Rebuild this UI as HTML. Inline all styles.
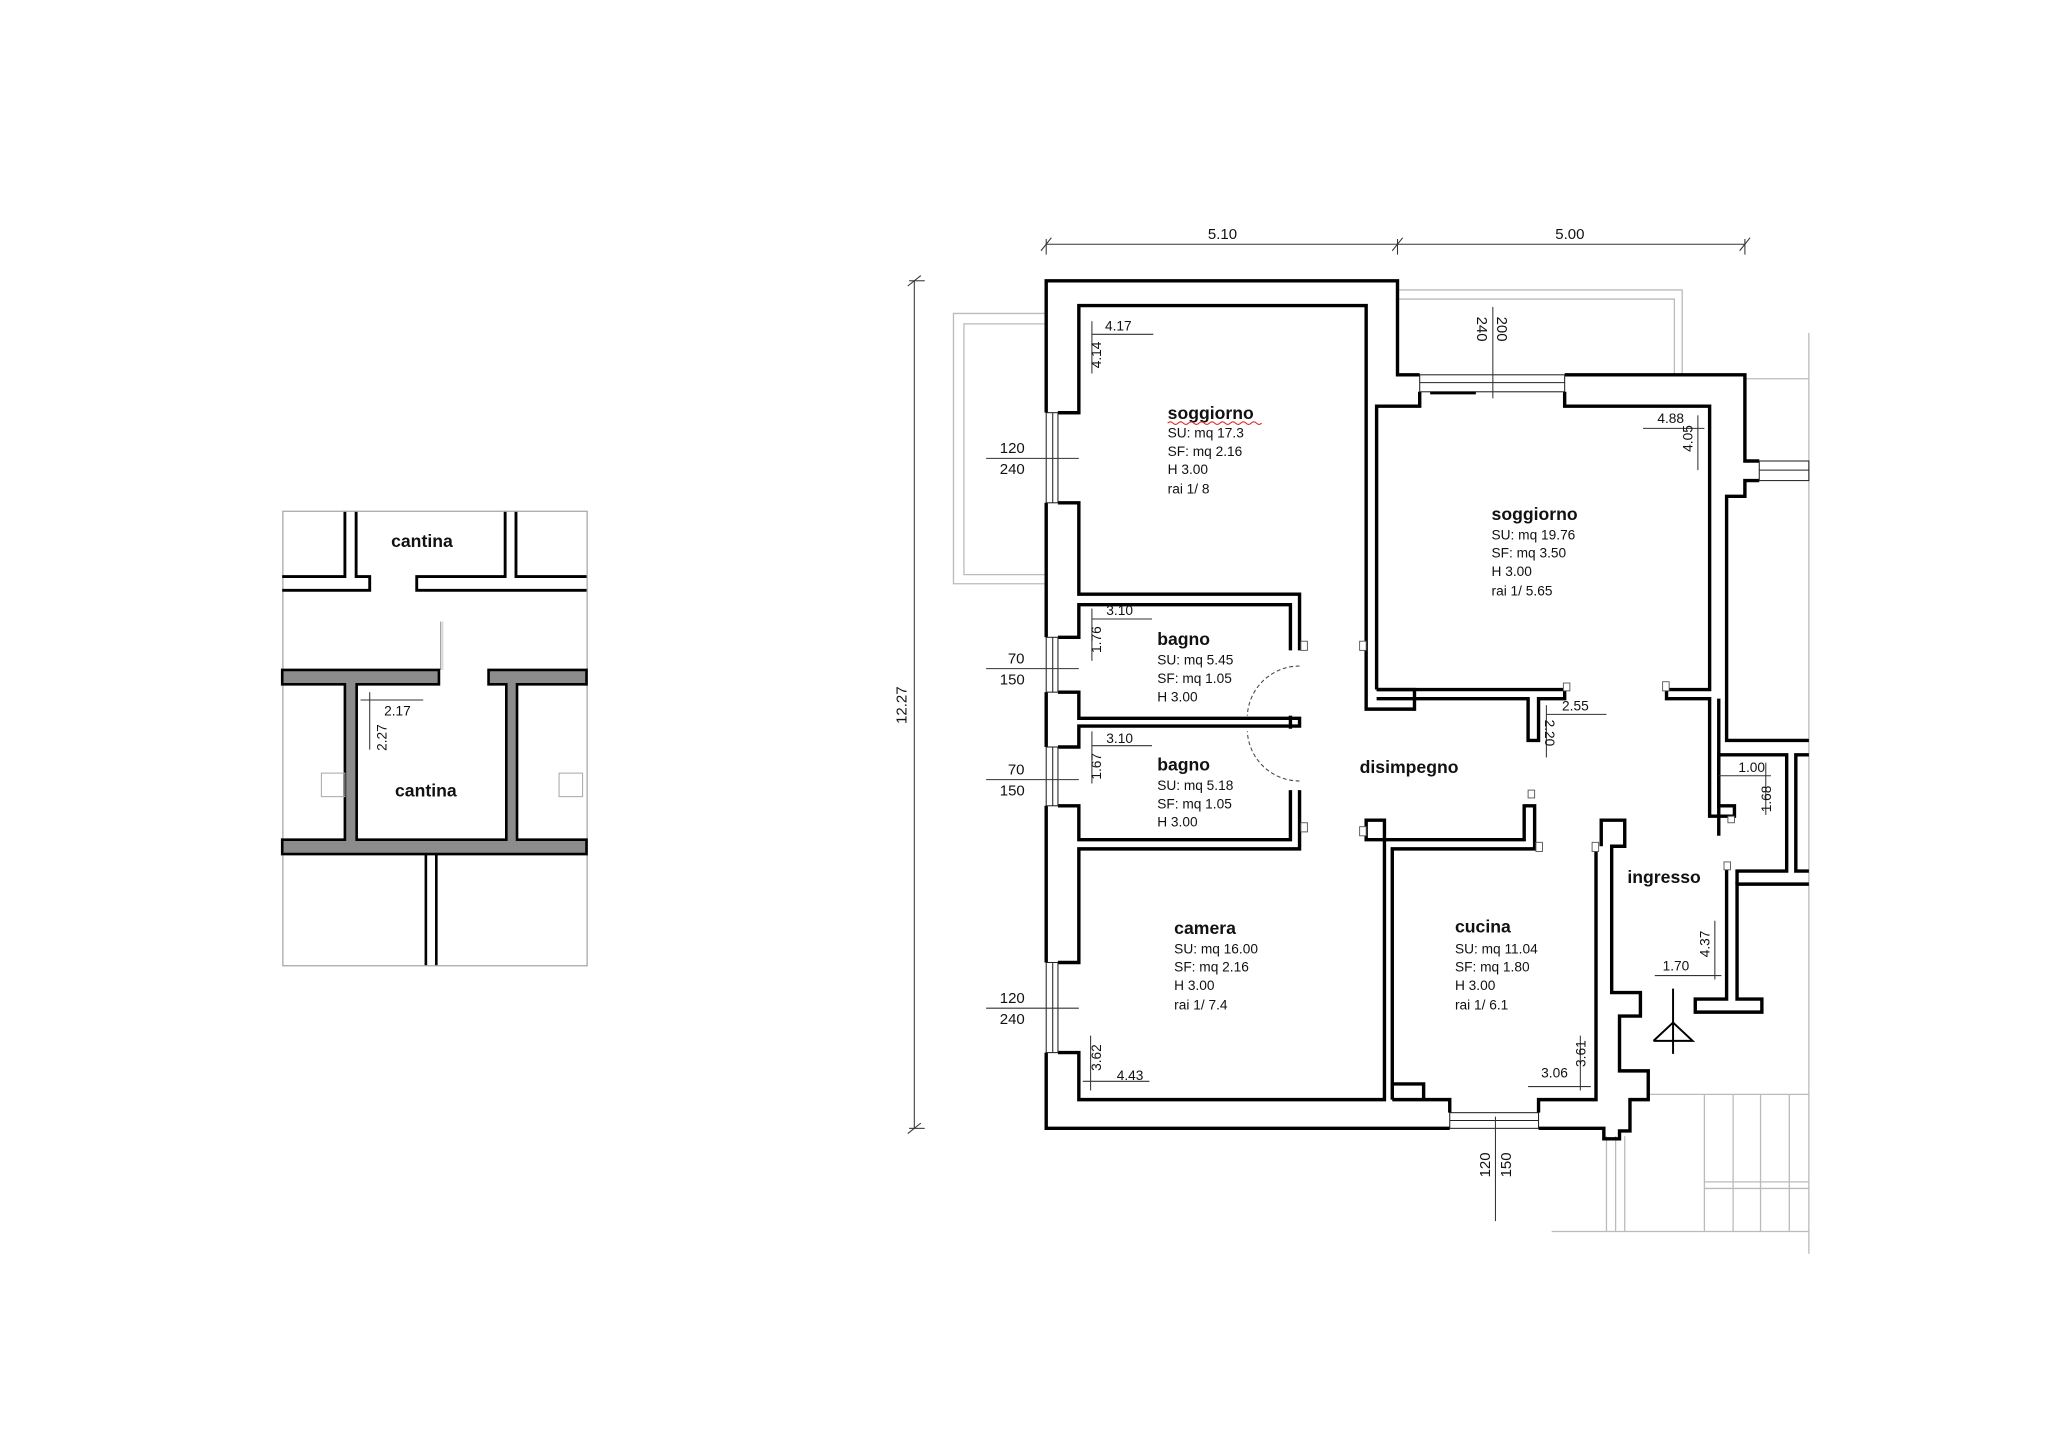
<!DOCTYPE html>
<html><head><meta charset="utf-8"><style>
html,body{margin:0;padding:0;background:#fff;}
svg{display:block;}
text{font-family:"Liberation Sans",sans-serif;fill:#111;}
.b{font-weight:bold;font-size:13.5px;}
.i{font-size:10.5px;}
.d{font-size:10.5px;}
.w{fill:none;stroke:#000;stroke-width:2.6;stroke-linejoin:miter;}
.t{fill:none;stroke:#333;stroke-width:0.8;}
.g{fill:none;stroke:#bbb;stroke-width:1;}
</style></head><body>
<svg width="2048" height="1447" viewBox="0 0 1568 1108" xmlns="http://www.w3.org/2000/svg">
<rect x="0" y="0" width="1568" height="1108" fill="#fff"/>

<!-- ============ CANTINA ============ -->
<rect x="216.5" y="391.5" width="233" height="348" fill="none" stroke="#aaa" stroke-width="1"/>
<g class="w" style="stroke-width:2.2">
<polyline points="216,441.5 264,441.5 264,392"/>
<polyline points="272.6,392 272.6,441.5 283,441.5 283,452 216,452"/>
<polyline points="449,441.5 395,441.5 395,392"/>
<polyline points="386.7,392 386.7,441.5 319,441.5 319,452 449,452"/>
</g>
<line x1="337.4" y1="476" x2="337.4" y2="513" stroke="#888" stroke-width="0.8"/>
<line x1="339" y1="476" x2="339" y2="513" stroke="#bbb" stroke-width="0.6"/>
<g fill="#8c8c8c" stroke="#000" stroke-width="2">
<path d="M216,513 H336 V524 H273 V643 H387.6 V524 H374 V513 H449 V524 H395.8 V643 H449 V654 H216 V643 H264 V524 H216 Z"/>
</g>
<g class="w" style="stroke-width:2">
<line x1="326" y1="654" x2="326" y2="739"/>
<line x1="334" y1="654" x2="334" y2="739"/>
</g>
<rect x="246" y="592" width="18" height="18" fill="none" stroke="#aaa" stroke-width="0.8"/>
<rect x="428" y="592" width="18" height="18" fill="none" stroke="#aaa" stroke-width="0.8"/>
<text class="b" x="323" y="419" text-anchor="middle">cantina</text>
<text class="b" x="326" y="610" text-anchor="middle">cantina</text>
<line class="t" x1="276" y1="536" x2="324" y2="536"/>
<line class="t" x1="283" y1="530" x2="283" y2="574"/>
<text class="d" x="294" y="548">2.17</text>
<text class="d" transform="translate(296,575) rotate(-90)">2.27</text>

<!-- ============ DIMENSIONS ============ -->
<g class="t">
<line x1="801" y1="187" x2="1336" y2="187"/>
<line x1="797" y1="192" x2="805" y2="182"/>
<line x1="1066" y1="192" x2="1074" y2="182"/>
<line x1="1332" y1="192" x2="1340" y2="182"/>
<line x1="801" y1="183" x2="801" y2="195"/>
<line x1="1070" y1="183" x2="1070" y2="195"/>
<line x1="1336" y1="183" x2="1336" y2="195"/>
<line x1="700" y1="215" x2="700" y2="864"/>
<line x1="695" y1="219" x2="705" y2="211"/>
<line x1="695" y1="868" x2="705" y2="860"/>
<line x1="696" y1="215" x2="708" y2="215"/>
<line x1="696" y1="864" x2="708" y2="864"/>
</g>
<text class="d" style="font-size:11.5px" x="936" y="183" text-anchor="middle">5.10</text>
<text class="d" style="font-size:11.5px" x="1202" y="183" text-anchor="middle">5.00</text>
<text class="d" style="font-size:11.5px" transform="translate(694,540) rotate(-90)" text-anchor="middle">12.27</text>

<!-- ============ GREY CONTEXT ============ -->
<g class="g">
<polyline points="801,240 730,240 730,447 801,447"/>
<polyline points="801,248 738,248 738,440 801,440"/>
<polyline points="1070,222 1288,222 1288,287"/>
<polyline points="1070,229 1282,229 1282,287"/>
<line x1="1385" y1="255" x2="1385" y2="960"/>
<line x1="1336" y1="290" x2="1385" y2="290"/>
<line x1="1188" y1="943" x2="1385" y2="943"/>
<line x1="1262" y1="838" x2="1385" y2="838"/>
<line x1="1230" y1="870" x2="1230" y2="943"/>
<line x1="1237" y1="870" x2="1237" y2="943"/>
<line x1="1244" y1="870" x2="1244" y2="943"/>
<line x1="1305" y1="838" x2="1305" y2="943"/>
<line x1="1327" y1="838" x2="1327" y2="943"/>
<line x1="1348" y1="838" x2="1348" y2="943"/>
<line x1="1370" y1="838" x2="1370" y2="943"/>
<line x1="1305" y1="905" x2="1385" y2="905"/>
<line x1="1305" y1="910" x2="1385" y2="910"/>
</g>

<!-- ============ WALLS ============ -->
<g class="w">
<!-- outer -->
<polyline points="1087,287 1070,287 1070,215 801,215 801,316"/>
<line x1="801" y1="385" x2="801" y2="488"/>
<line x1="801" y1="530" x2="801" y2="572"/>
<line x1="801" y1="617" x2="801" y2="737"/>
<polyline points="801,806 801,864 1110,864"/>
<polyline points="1178,864 1228,864 1228,872 1240,872 1240,866 1248,866 1248,842 1262,842 1262,820 1240,820 1240,778 1256,778 1256,760 1234,760 1234,648 1244,648 1244,628 1226,628 1226,648"/>
<!-- soggiorno 1 inner -->
<polyline points="826,316 810,316 810,316"/>
<polyline points="810,316 826,316 826,234 1046,234 1046,543 1083,543 1083,528 1054,528"/>
<polyline points="810,385 826,385 826,455 995,455 995,498"/>
<!-- bagno 1 -->
<polyline points="810,488 826,488 826,463 988,463 988,498"/>
<polyline points="810,530 826,530 826,550 995,550 995,556 826,556 826,572 810,572"/>
<line x1="988" y1="548" x2="988" y2="558"/>
<!-- bagno 2 -->
<polyline points="810,617 826,617 826,643 988,643 988,605"/>
<polyline points="995,605 995,650 826,650 826,737 810,737"/>
<!-- camera -->
<polyline points="810,806 826,806 826,842 1060,842 1060,643 1046,643 1046,628 1060,628 1060,643"/>
<!-- cucina -->
<polyline points="1066,842 1066,650 1175,650 1175,617 1167,617 1167,643 1060,643"/>
<polyline points="1066,830 1090,830 1090,842"/>
<polyline points="1066,842 1110,842 1110,852"/>
<polyline points="1178,852 1178,842 1222,842 1222,648"/>
<!-- soggiorno 2 -->
<polyline points="1054,528 1054,311 1087,311 1087,300"/>
<polyline points="1198,300 1198,311 1309,311 1309,528 1276,528 1276,535 1309,535 1309,625 1328,625 1328,617 1316,617 1316,535"/>
<polyline points="1083,535 1054,535"/>
<polyline points="1054,528 1198,528 1198,535 1178,535 1178,567 1170,567 1170,535 1083,535"/>
<polyline points="1198,287 1336,287 1336,353 1347,353"/>
<polyline points="1347,368 1336,368 1336,380 1322,380 1322,567 1385,567"/>
<!-- ingresso right -->
<polyline points="1385,578 1375,578 1375,667 1385,667"/>
<polyline points="1316,640 1316,578 1368,578 1368,667 1330,667 1330,677"/>
<polyline points="1322,660 1322,765 1298,765 1298,775 1349,775 1349,765 1330,765 1330,677 1385,677"/>
</g>

<!-- windows -->
<g class="t" style="stroke:#222">
<rect x="801" y="316" width="9" height="69"/>
<line x1="806" y1="316" x2="806" y2="385"/>
<rect x="801" y="488" width="9" height="42"/>
<line x1="806" y1="488" x2="806" y2="530"/>
<rect x="801" y="572" width="9" height="45"/>
<line x1="806" y1="572" x2="806" y2="617"/>
<rect x="801" y="737" width="9" height="69"/>
<line x1="806" y1="737" x2="806" y2="806"/>
<rect x="1087" y="287" width="111" height="13"/>
<line x1="1087" y1="293" x2="1198" y2="293"/>
<rect x="1110" y="852" width="68" height="12"/>
<line x1="1110" y1="858" x2="1178" y2="858"/>
<rect x="1347" y="353" width="38" height="15"/>
<line x1="1347" y1="360" x2="1385" y2="360"/>
</g>
<line x1="1095" y1="301" x2="1130" y2="301" stroke="#000" stroke-width="2"/>

<!-- door arcs -->
<path d="M995,510 A40,40 0 0 0 955,548" fill="none" stroke="#444" stroke-width="0.8" stroke-dasharray="3,2"/>
<path d="M995,598 A40,40 0 0 1 955,560" fill="none" stroke="#444" stroke-width="0.8" stroke-dasharray="3,2"/>

<!-- small jamb boxes -->
<g fill="#fff" stroke="#555" stroke-width="0.7">
<rect x="996" y="491" width="5" height="7"/>
<rect x="996" y="630" width="5" height="7"/>
<rect x="1041" y="491" width="5" height="7"/>
<rect x="1041" y="633" width="5" height="7"/>
<rect x="1197" y="523" width="5" height="6"/>
<rect x="1273" y="522" width="5" height="7"/>
<rect x="1170" y="605" width="5" height="6"/>
<rect x="1176" y="645" width="5" height="7"/>
<rect x="1219" y="645" width="5" height="7"/>
<rect x="1320" y="660" width="5" height="6"/>
<rect x="1323" y="625" width="5" height="5"/>
</g>

<!-- window dims -->
<g class="t">
<line x1="755" y1="351" x2="826" y2="351"/>
<line x1="755" y1="512" x2="826" y2="512"/>
<line x1="755" y1="597" x2="826" y2="597"/>
<line x1="755" y1="772" x2="826" y2="772"/>
<line x1="1143" y1="235" x2="1143" y2="305"/>
<line x1="1145" y1="855" x2="1145" y2="935"/>
</g>
<g class="d" style="font-size:11.5px">
<text x="775" y="347" text-anchor="middle">120</text>
<text x="775" y="363" text-anchor="middle">240</text>
<text x="778" y="508" text-anchor="middle">70</text>
<text x="775" y="524" text-anchor="middle">150</text>
<text x="778" y="593" text-anchor="middle">70</text>
<text x="775" y="609" text-anchor="middle">150</text>
<text x="775" y="768" text-anchor="middle">120</text>
<text x="775" y="784" text-anchor="middle">240</text>
<text transform="translate(1146,252) rotate(90)" text-anchor="middle">200</text>
<text transform="translate(1131,252) rotate(90)" text-anchor="middle">240</text>
<text transform="translate(1141,892) rotate(-90)" text-anchor="middle">120</text>
<text transform="translate(1157,892) rotate(-90)" text-anchor="middle">150</text>
</g>

<!-- room dims -->
<g class="t">
<line x1="836" y1="256" x2="883" y2="256"/><line x1="836" y1="246" x2="836" y2="286"/>
<line x1="1258" y1="328" x2="1305" y2="328"/><line x1="1300" y1="318" x2="1300" y2="360"/>
<line x1="836" y1="474" x2="882" y2="474"/><line x1="836" y1="466" x2="836" y2="506"/>
<line x1="836" y1="571" x2="882" y2="571"/><line x1="836" y1="560" x2="836" y2="600"/>
<line x1="1184" y1="547" x2="1230" y2="547"/><line x1="1184" y1="540" x2="1184" y2="580"/>
<line x1="1316" y1="594" x2="1356" y2="594"/><line x1="1352" y1="584" x2="1352" y2="624"/>
<line x1="1267" y1="747" x2="1318" y2="747"/><line x1="1313" y1="705" x2="1313" y2="750"/>
<line x1="829" y1="828" x2="880" y2="828"/><line x1="835" y1="793" x2="835" y2="835"/>
<line x1="1170" y1="832" x2="1218" y2="832"/><line x1="1210" y1="793" x2="1210" y2="835"/>
</g>
<g class="d">
<text x="846" y="253">4.17</text>
<text transform="translate(843,282) rotate(-90)">4.14</text>
<text x="1269" y="324">4.88</text>
<text transform="translate(1296,346) rotate(-90)">4.05</text>
<text x="847" y="471">3.10</text>
<text transform="translate(843,500) rotate(-90)">1.76</text>
<text x="847" y="569">3.10</text>
<text transform="translate(843,597) rotate(-90)">1.67</text>
<text x="1196" y="544">2.55</text>
<text transform="translate(1183,551) rotate(90)">2.20</text>
<text x="1331" y="591">1.00</text>
<text transform="translate(1356,622) rotate(-90)">1.68</text>
<text x="1273" y="743">1.70</text>
<text transform="translate(1309,733) rotate(-90)">4.37</text>
<text transform="translate(843,820) rotate(-90)">3.62</text>
<text x="855" y="827">4.43</text>
<text x="1180" y="825">3.06</text>
<text transform="translate(1214,817) rotate(-90)">3.61</text>
</g>

<!-- room labels -->
<text class="b" x="894" y="321">soggiorno</text>
<path d="M894,324 q2,-2 4,0 t4,0 t4,0 t4,0 t4,0 t4,0 t4,0 t4,0 t4,0 t4,0 t4,0 t4,0 t4,0 t4,0 t4,0 t4,0 t4,0 t4,0" fill="none" stroke="#d22" stroke-width="0.8"/>
<g class="i"><text x="894" y="335">SU: mq 17.3</text><text x="894" y="349">SF: mq 2.16</text><text x="894" y="363">H 3.00</text><text x="894" y="378">rai 1/ 8</text></g>
<text class="b" x="1142" y="398">soggiorno</text>
<g class="i"><text x="1142" y="413">SU: mq 19.76</text><text x="1142" y="427">SF: mq 3.50</text><text x="1142" y="441">H 3.00</text><text x="1142" y="456">rai 1/ 5.65</text></g>
<text class="b" x="886" y="494">bagno</text>
<g class="i"><text x="886" y="509">SU: mq 5.45</text><text x="886" y="523">SF: mq 1.05</text><text x="886" y="537">H 3.00</text></g>
<text class="b" x="886" y="590">bagno</text>
<g class="i"><text x="886" y="605">SU: mq 5.18</text><text x="886" y="619">SF: mq 1.05</text><text x="886" y="633">H 3.00</text></g>
<text class="b" x="1041" y="592">disimpegno</text>
<text class="b" x="899" y="715">camera</text>
<g class="i"><text x="899" y="730">SU: mq 16.00</text><text x="899" y="744">SF: mq 2.16</text><text x="899" y="758">H 3.00</text><text x="899" y="773">rai 1/ 7.4</text></g>
<text class="b" x="1114" y="714">cucina</text>
<g class="i"><text x="1114" y="730">SU: mq 11.04</text><text x="1114" y="744">SF: mq 1.80</text><text x="1114" y="758">H 3.00</text><text x="1114" y="773">rai 1/ 6.1</text></g>
<text class="b" x="1246" y="676">ingresso</text>

<!-- entry symbol -->
<g stroke="#000" stroke-width="1.5" fill="none">
<line x1="1281" y1="757" x2="1281" y2="807"/>
<polyline points="1266,797 1281,783 1296,797 1266,797"/>
</g>
</svg>
</body></html>
